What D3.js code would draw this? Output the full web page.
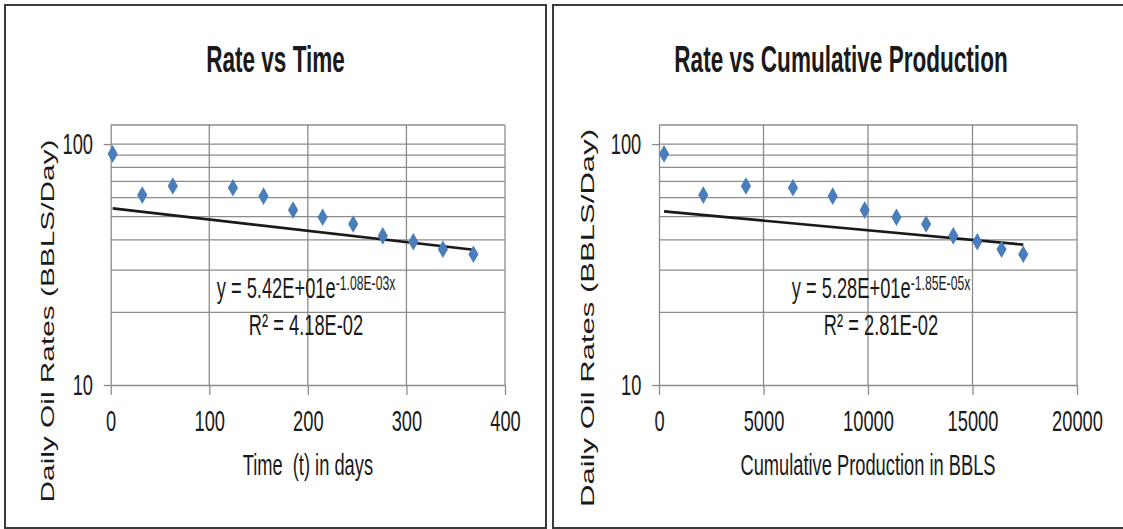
<!DOCTYPE html>
<html>
<head>
<meta charset="utf-8">
<script src="https://cdn.jsdelivr.net/npm/d3@7"></script>
<style>
  body { margin: 0; background: #fff; }
  text { font-family: "Liberation Sans", Arial, sans-serif; fill: #1a1a1a; white-space: pre; }
</style>
</head>
<body>
<svg id="chart" width="1123" height="529"></svg>
<script>
// data
const timeDays = [2, 32, 63, 124, 155, 185, 215, 246, 276, 307, 337, 368];
const cumProd = [240, 2120, 4160, 6410, 8310, 9840, 11360, 12780, 14080, 15230, 16390, 17430];
const rates = [91, 61.4, 67, 65.9, 60.8, 53.2, 49.7, 46.6, 41.6, 39.3, 36.6, 34.9];
const timeTicks = [0, 100, 200, 300, 400];
const cumTicks = [0, 5000, 10000, 15000, 20000];
const rateTicks = [10, 100];
const rateGrid = [20, 30, 40, 50, 60, 70, 80, 90, 100];
// exponential trend fits shown on the charts: y = a * e^(b x)
const trendTime = {a: 54.2, b: -1.08e-3};
const trendCum = {a: 52.8, b: -1.85e-5};

const SX = 0.61; // the picture is squeezed sideways
const svg = d3.select("#chart");

const panels = [
  {
    title: "Rate vs Time", xLabel: "Time  (t) in days",
    xs: timeDays, xDomain: [0, 400], xTicks: timeTicks, fit: trendTime,
    eq: "y = 5.42E+01e", eqSup: "-1.08E-03x", r2: "R\u00b2 = 4.18E-02",
    box: [5, 5, 541, 523], plotX: [110.7, 505], eqX: 306, titleX: 275.5, yLab: [54, 321, 363]
  },
  {
    title: "Rate vs Cumulative Production", xLabel: "Cumulative Production in BBLS",
    xs: cumProd, xDomain: [0, 20000], xTicks: cumTicks, fit: trendCum,
    eq: "y = 5.28E+01e", eqSup: "-1.85E-05x", r2: "R\u00b2 = 2.81E-02",
    box: [553, 5, 580, 523], plotX: [659, 1077], eqX: 881, titleX: 841, yLab: [594, 318, 378]
  }
];

const plotY = [385, 125];

function narrow(sel, x, y) {
  return sel.attr("transform", `translate(${x},${y}) scale(${SX},1)`);
}

panels.forEach(p => {
  const g = svg.append("g");

  g.append("rect")
    .attr("x", p.box[0]).attr("y", p.box[1])
    .attr("width", p.box[2]).attr("height", p.box[3])
    .attr("fill", "#fff").attr("stroke", "#3a3a3a").attr("stroke-width", 2);

  const x = d3.scaleLinear().domain(p.xDomain).range(p.plotX);
  const y = d3.scaleLog().domain([10, 120]).range(plotY);

  // gridlines
  g.append("g").selectAll("line").data(rateGrid).join("line")
    .attr("x1", p.plotX[0]).attr("x2", p.plotX[1])
    .attr("y1", d => y(d)).attr("y2", d => y(d))
    .attr("stroke", "#8c8c8c").attr("stroke-width", 1.3);
  g.append("g").selectAll("line").data(p.xTicks.slice(1)).join("line")
    .attr("x1", d => x(d)).attr("x2", d => x(d))
    .attr("y1", plotY[0]).attr("y2", plotY[1])
    .attr("stroke", "#8c8c8c").attr("stroke-width", 1.3);
  g.append("line")
    .attr("x1", p.plotX[0]).attr("x2", p.plotX[1])
    .attr("y1", plotY[1]).attr("y2", plotY[1])
    .attr("stroke", "#8c8c8c").attr("stroke-width", 1.3);

  // axes
  const xAxis = g.append("g").attr("transform", `translate(0,${plotY[0]})`)
    .call(d3.axisBottom(x).tickValues(p.xTicks).tickFormat(d3.format("d"))
      .tickSize(10).tickSizeOuter(0).tickPadding(15));
  const yAxis = g.append("g").attr("transform", `translate(${p.plotX[0]},0)`)
    .call(d3.axisLeft(y).tickValues(rateTicks).tickFormat(d3.format("d"))
      .tickSize(7).tickSizeOuter(0).tickPadding(10));
  [xAxis, yAxis].forEach(a => {
    a.attr("font-family", null);
    a.select(".domain").attr("stroke", "#8c8c8c").attr("stroke-width", 1.3);
    a.selectAll(".tick line").attr("stroke", "#8c8c8c").attr("stroke-width", 1.3);
    a.selectAll(".tick text").attr("font-size", 30).attr("fill", "#111")
      .attr("transform", `scale(${SX},1)`);
  });
  yAxis.selectAll(".tick text").attr("x", -17.7 / SX);

  // trend line
  const ends = [d3.min(p.xs), d3.max(p.xs)];
  g.append("path")
    .datum(ends)
    .attr("d", d3.line().x(d => x(d)).y(d => y(p.fit.a * Math.exp(p.fit.b * d))))
    .attr("fill", "none").attr("stroke", "#1a1a1a").attr("stroke-width", 2.6);

  // markers
  g.append("g").selectAll("path").data(p.xs).join("path")
    .attr("d", d3.symbol().type(d3.symbolDiamond).size(90))
    .attr("transform", (d, i) => `translate(${x(d)},${y(rates[i])})`)
    .attr("fill", "#4a7ebb");

  // title
  narrow(g.append("text"), p.titleX, 72)
    .attr("text-anchor", "middle").attr("font-size", 37).attr("font-weight", "bold")
    .text(p.title);

  // x label
  narrow(g.append("text"), (p.plotX[0] + p.plotX[1]) / 2, 475)
    .attr("text-anchor", "middle").attr("font-size", 30)
    .text(p.xLabel);

  // y label
  g.append("text")
    .attr("transform", `translate(${p.yLab[0]},${p.yLab[1]}) scale(${SX},1) rotate(-90)`)
    .attr("text-anchor", "middle").attr("font-size", 31)
    .attr("textLength", p.yLab[2]).attr("lengthAdjust", "spacingAndGlyphs")
    .text("Daily Oil Rates (BBLS/Day)");

  // equation
  const eq = narrow(g.append("text"), p.eqX, 298)
    .attr("text-anchor", "middle").attr("font-size", 30);
  eq.append("tspan").text(p.eq);
  eq.append("tspan").attr("font-size", 20).attr("dy", -8).text(p.eqSup);
  narrow(g.append("text"), p.eqX, 335)
    .attr("text-anchor", "middle").attr("font-size", 30)
    .text(p.r2);
});
</script>
</body>
</html>
